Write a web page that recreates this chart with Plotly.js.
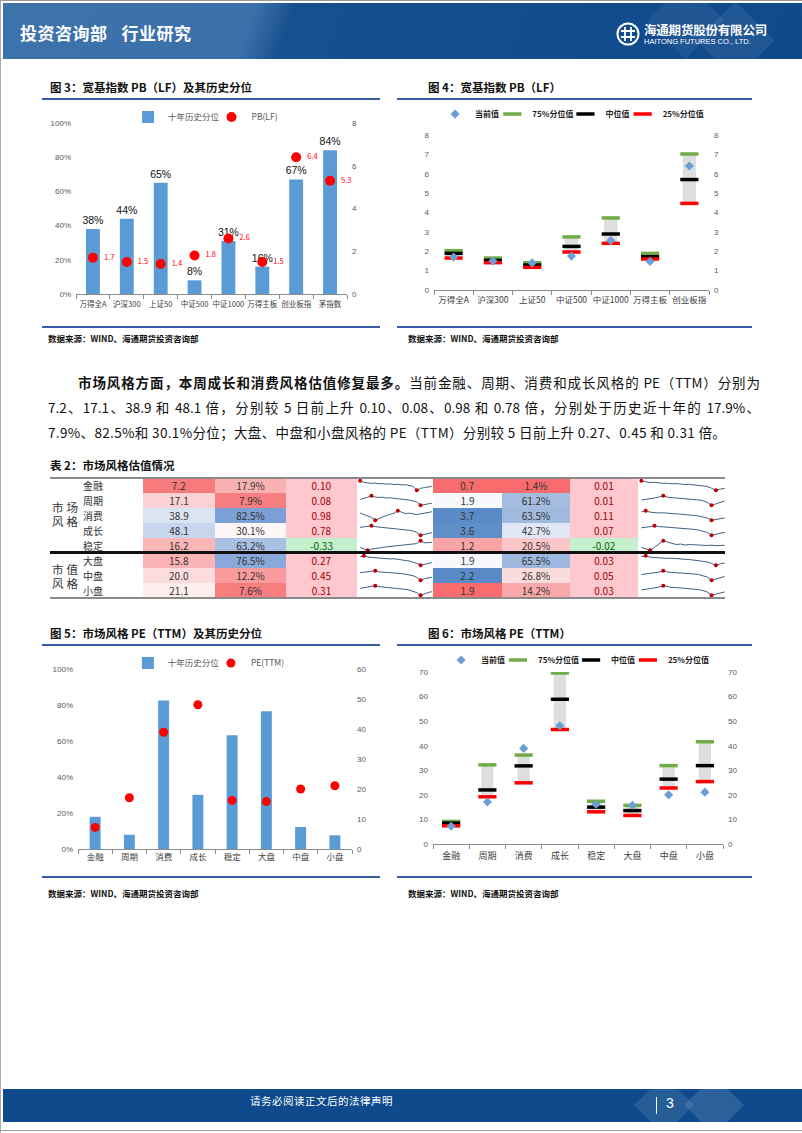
<!DOCTYPE html>
<html><head><meta charset="utf-8">
<script src="https://cdn.plot.ly/plotly-3.0.1.min.js"></script>
<style>
body{margin:0;background:#fff;}
#page{position:relative;width:802px;height:1133px;overflow:hidden;font-family:"Noto Sans CJK SC","Noto Sans",sans-serif;color:#222;}
.abs{position:absolute;}
.ftitle{position:absolute;font-size:11.5px;font-weight:bold;color:#111;white-space:nowrap;line-height:14px;}
.rule{position:absolute;height:2px;background:#3a5da6;}
.src{position:absolute;font-size:8.5px;font-weight:bold;color:#111;white-space:nowrap;line-height:11px;}
.chart{position:absolute;}
.para{position:absolute;left:48px;width:712px;font-size:13.5px;line-height:25px;color:#111;white-space:nowrap;}
.just{text-align:justify;text-align-last:justify;}
.grp{position:absolute;left:52px;font-size:11.5px;line-height:14px;letter-spacing:3px;color:#333;}
</style></head>
<body><div id="page">
<div class="abs" style="left:0;top:0;width:802px;height:1px;background:#999"></div>
<div class="abs" style="left:0;top:0;width:1px;height:1133px;background:#aaa"></div>
<div class="abs" style="left:0;top:1130px;width:802px;height:1px;background:#999"></div>
<!-- header -->
<div class="abs" style="left:3px;top:3px;width:799px;height:56px;background:linear-gradient(108deg,#3d72ab 0%,#3b70aa 31%,#174f8f 36%,#0f4a8c 100%);overflow:hidden">
  <div class="abs" style="left:655px;top:-10px;width:55px;height:55px;transform:rotate(45deg);background:rgba(255,255,255,0.06)"></div>
  <div class="abs" style="left:705px;top:10px;width:55px;height:55px;transform:rotate(45deg);background:rgba(255,255,255,0.07)"></div>
</div>
<div class="abs" style="left:20px;top:20px;color:#fff;font-size:17px;font-weight:bold;white-space:nowrap;letter-spacing:0.5px">投资咨询部<span style="display:inline-block;width:14px"></span>行业研究</div>
<svg class="abs" style="left:615px;top:21px" width="26" height="26" viewBox="0 0 26 26">
  <circle cx="13" cy="13" r="10.5" fill="none" stroke="#fff" stroke-width="2"/>
  <path d="M6 10 H20 M6 16 H20 M10 6 V20 M16 6 V20" stroke="#fff" stroke-width="1.8" fill="none"/>
</svg>
<div class="abs" style="left:644px;top:20px;color:#fff;font-size:12.5px;font-weight:bold;white-space:nowrap;letter-spacing:-0.2px">海通期货股份有限公司</div>
<div class="abs" style="left:644px;top:37px;color:#fff;font-size:7.5px;white-space:nowrap;font-family:'Liberation Sans',Arial,sans-serif">HAITONG FUTURES CO., LTD.</div>

<!-- figure 3/4 -->
<div class="ftitle" style="left:50px;top:80px">图 3：宽基指数 PB（LF）及其历史分位</div>
<div class="rule" style="left:42px;top:98px;width:338px"></div>
<div class="ftitle" style="left:428px;top:80px">图 4：宽基指数 PB（LF）</div>
<div class="rule" style="left:397px;top:98px;width:355px"></div>
<div id="c3" class="chart" style="left:42px;top:102px;width:338px;height:220px"></div>
<div id="c4" class="chart" style="left:397px;top:102px;width:355px;height:220px"></div>
<div class="rule" style="left:42px;top:326px;width:338px"></div>
<div class="rule" style="left:397px;top:326px;width:355px"></div>
<div class="src" style="left:48px;top:333px">数据来源：WIND、海通期货投资咨询部</div>
<div class="src" style="left:408px;top:333px">数据来源：WIND、海通期货投资咨询部</div>

<!-- paragraph -->
<div class="para just" style="top:370px;left:78px;width:682px"><b>市场风格方面，本周成长和消费风格估值修复最多。</b>当前金融、周期、消费和成长风格的 PE（TTM）分别为</div>
<div class="para just" style="top:395px">7.2、17.1、38.9 和 48.1 倍，分别较 5 日前上升 0.10、0.08、0.98 和 0.78 倍，分别处于历史近十年的 17.9%、</div>
<div class="para" style="top:420px;letter-spacing:0.35px">7.9%、82.5%和 30.1%分位；大盘、中盘和小盘风格的 PE（TTM）分别较 5 日前上升 0.27、0.45 和 0.31 倍。</div>

<!-- table -->
<div class="ftitle" style="left:50px;top:458px">表 2：市场风格估值情况</div>
<div id="tbl" class="chart" style="left:0;top:470px;width:802px;height:135px"></div>
<div class="abs" style="left:50px;top:477px;width:675px;height:1.5px;background:#8a8a8a"></div>
<div class="abs" style="left:50px;top:551px;width:675px;height:2.5px;background:#111"></div>
<div class="abs" style="left:50px;top:597px;width:675px;height:1.5px;background:#8a8a8a"></div>
<div class="grp" style="top:500px">市场<br>风格</div>
<div class="grp" style="top:562px">市值<br>风格</div>

<!-- figure 5/6 -->
<div class="ftitle" style="left:50px;top:626px">图 5：市场风格 PE（TTM）及其历史分位</div>
<div class="rule" style="left:42px;top:644px;width:338px"></div>
<div class="ftitle" style="left:428px;top:626px">图 6：市场风格 PE（TTM）</div>
<div class="rule" style="left:397px;top:644px;width:355px"></div>
<div id="c5" class="chart" style="left:42px;top:650px;width:338px;height:222px"></div>
<div id="c6" class="chart" style="left:397px;top:648px;width:355px;height:224px"></div>
<div class="rule" style="left:42px;top:876px;width:338px"></div>
<div class="rule" style="left:397px;top:876px;width:355px"></div>
<div class="src" style="left:48px;top:888px">数据来源：WIND、海通期货投资咨询部</div>
<div class="src" style="left:408px;top:888px">数据来源：WIND、海通期货投资咨询部</div>

<!-- footer -->
<div class="abs" style="left:3px;top:1089px;width:799px;height:33px;background:#0f4b8c;overflow:hidden">
  <div class="abs" style="left:640px;top:-5px;width:42px;height:42px;transform:rotate(45deg);background:rgba(255,255,255,0.10)"></div>
  <div class="abs" style="left:690px;top:-5px;width:42px;height:42px;transform:rotate(45deg);background:rgba(255,255,255,0.12)"></div>
</div>
<div class="abs" style="left:250px;top:1093px;color:#fff;font-size:10.5px;white-space:nowrap;letter-spacing:0.5px">请务必阅读正文后的法律声明</div>
<div class="abs" style="left:656px;top:1097px;width:1px;height:17px;background:#fff"></div>
<div class="abs" style="left:666px;top:1095px;color:#fff;font-size:14px;font-family:'Liberation Sans',Arial,sans-serif">3</div>
</div>

<script>
// ---------- data ----------
const pbCats = ['万得全A','沪深300','上证50','中证500','中证1000','万得主板','创业板指','茅指数'];
const pbPct = [38, 44, 65, 8, 31, 16, 67, 84];
const pbVal = [1.7, 1.5, 1.4, 1.8, 2.6, 1.5, 6.4, 5.3];

const boxCats = ['万得全A','沪深300','上证50','中证500','中证1000','万得主板','创业板指'];
const boxCur = [1.7, 1.5, 1.4, 1.75, 2.55, 1.47, 6.4];
const boxP75 = [2.03, 1.65, 1.41, 2.74, 3.72, 1.89, 7.02];
const boxMed = [1.89, 1.53, 1.29, 2.25, 2.89, 1.72, 5.7];
const boxP25 = [1.65, 1.41, 1.17, 1.96, 2.41, 1.6, 4.47];

const styleCats = ['金融','周期','消费','成长','稳定','大盘','中盘','小盘'];
const pe = [7.2, 17.1, 38.9, 48.1, 16.2, 15.8, 20.0, 21.1];
const pePct = [17.9, 7.9, 82.5, 30.1, 63.2, 76.5, 12.2, 7.6];
const peChg = [0.10, 0.08, 0.98, 0.78, -0.33, 0.27, 0.45, 0.31];
const pb = [0.7, 1.9, 3.7, 3.6, 1.2, 1.9, 2.2, 1.9];
const pbStylePct = [1.4, 61.2, 63.5, 42.7, 20.5, 65.5, 26.8, 14.2];
const pbChg = [0.01, 0.01, 0.11, 0.07, -0.02, 0.03, 0.05, 0.03];

const peP75 = [9.2, 32.2, 36.2, 69.6, 17.4, 15.7, 31.9, 41.6];
const peMed = [8.5, 22.0, 31.8, 58.9, 15.0, 13.6, 26.4, 31.9];
const peP25 = [7.4, 19.2, 24.9, 46.6, 13.1, 11.6, 22.8, 25.4];

// sparkline shapes (estimated readings, one per row)
const sparkPE = [
 [1.0,0.82,0.78,0.72,0.76,0.68,0.7,0.64,0.66,0.6,0.63,0.56,0.58,0.5,0.42,0.0,0.2,0.28,0.36,0.4],
 [0.62,0.7,0.85,1.0,0.86,0.82,0.84,0.76,0.78,0.72,0.7,0.66,0.6,0.55,0.48,0.35,0.0,0.1,0.18,0.22],
 [0.75,0.6,0.45,0.3,0.0,0.2,0.35,0.5,0.62,0.75,1.0,0.82,0.7,0.75,0.66,0.6,0.68,0.72,0.8,0.9],
 [0.82,0.88,0.92,1.0,0.9,0.86,0.84,0.8,0.78,0.74,0.7,0.66,0.6,0.52,0.45,0.3,0.0,0.12,0.2,0.28],
 [0.3,0.15,0.0,0.12,0.2,0.26,0.3,0.36,0.4,0.45,0.5,0.48,0.55,0.6,0.66,0.7,1.0,0.78,0.8,0.82],
 [0.9,1.0,0.86,0.82,0.78,0.8,0.72,0.7,0.66,0.68,0.6,0.56,0.5,0.45,0.35,0.2,0.0,0.1,0.2,0.28],
 [0.78,0.82,0.85,0.9,1.0,0.88,0.86,0.84,0.8,0.78,0.74,0.7,0.64,0.56,0.48,0.3,0.0,0.15,0.25,0.32],
 [0.72,0.8,0.84,0.9,1.0,0.9,0.86,0.88,0.82,0.8,0.76,0.7,0.62,0.55,0.45,0.28,0.0,0.18,0.28,0.38]
];
const sparkPB = [
 [1.0,0.86,0.8,0.84,0.75,0.72,0.74,0.68,0.7,0.64,0.6,0.62,0.55,0.5,0.48,0.4,0.22,0.0,0.12,0.2],
 [0.55,0.6,0.7,0.76,0.85,1.0,0.84,0.8,0.78,0.72,0.7,0.68,0.62,0.56,0.48,0.3,0.0,0.15,0.3,0.45],
 [0.9,1.0,0.85,0.8,0.76,0.78,0.72,0.7,0.68,0.65,0.6,0.58,0.5,0.45,0.38,0.25,0.0,0.1,0.18,0.25],
 [0.78,0.82,0.9,1.0,0.9,0.88,0.85,0.82,0.8,0.78,0.72,0.68,0.62,0.55,0.45,0.3,0.0,0.12,0.22,0.32],
 [0.3,0.15,0.0,0.3,0.7,1.0,0.85,0.7,0.6,0.65,0.55,0.6,0.58,0.52,0.56,0.5,0.54,0.48,0.5,0.52],
 [0.9,1.0,0.84,0.8,0.82,0.75,0.72,0.74,0.68,0.66,0.62,0.6,0.55,0.5,0.42,0.35,0.2,0.0,0.15,0.25],
 [0.6,0.66,0.7,0.75,0.85,1.0,0.86,0.82,0.8,0.78,0.74,0.7,0.66,0.6,0.5,0.35,0.0,0.15,0.3,0.4],
 [0.55,0.62,0.7,0.78,0.85,1.0,0.88,0.82,0.8,0.76,0.72,0.7,0.66,0.6,0.5,0.35,0.0,0.12,0.25,0.35]
];

// ---------- styles ----------
const CJK = '"Noto Sans CJK SC","Noto Sans",sans-serif';
const NUM = '"Liberation Sans",Arial,sans-serif';
const BLUE = '#5b9bd5';
const cfg = {staticPlot:true, displayModeBar:false};
const peColors = ['#f77b7c','#fbd2d3','#dbe4f2','#c8d6ed','#f9b7b8','#f9b3b4','#fcdcdd','#fdeeee'];
const pePctColors = ['#f9b1b2','#f77f81','#7aa0d5','#fdf6f7','#a9c0e2','#88a9d9','#f99b9c','#f77d7f'];
const pbColors = ['#f86c6e','#f8f9fd','#5b8bc7','#608ec9','#f9a4a5','#f8f9fd','#5b8bc7','#f86c6e'];
const pbPctColors = ['#f86c6e','#a4bce0','#a0b9df','#dfe7f4','#fbc6c7','#9db7de','#fbdcdd','#f9a9aa'];
const chgFill = v => v < 0 ? '#c6efce' : '#ffc7ce';
const chgText = v => v < 0 ? '#006100' : '#9c0006';

function catAxis(n, fs, standoff){
  return {type:'category', range:[-0.5, n-0.5], showline:true, linecolor:'#8c8c8c', linewidth:1, tickangle:0,
    ticks:'outside', tickson:'boundaries', ticklen:4, tickcolor:'#8c8c8c', showgrid:false, zeroline:false,
    ticklabelstandoff:standoff||0, tickfont:{size:fs||9, color:'#404040', family:CJK}};
}
function valAxis(range, dtick, extra){
  return Object.assign({range:range, dtick:dtick, showgrid:false, zeroline:false, showline:false, ticks:'',
    tickfont:{size:8, color:'#595959', family:NUM}, ticklabelstandoff:4}, extra||{});
}
function legendAt(x, y, bold){
  return {orientation:'h', x:x, xanchor:'left', y:y, yanchor:'middle', bgcolor:'rgba(0,0,0,0)',
    font:bold ? {size:8, color:'#222', family:CJK, weight:'bold'} : {size:8.5, color:'#595959', family:CJK}};
}

// ---------- chart 3 ----------
Plotly.newPlot('c3', [
  {type:'bar', name:'十年历史分位', x:pbCats, y:pbPct, marker:{color:BLUE}, width:0.41,
   text:pbPct.map(v=>v+'%'), textposition:'outside', constraintext:'none', textangle:0,
   textfont:{size:10.5, color:'#111', family:NUM}, cliponaxis:false, legend:'legend'},
  {type:'scatter', mode:'markers', name:'PB(LF)', x:pbCats, y:pbVal, yaxis:'y2',
   marker:{color:'#ff0000', size:10}, legend:'legend2'},
  {type:'scatter', mode:'markers+text', showlegend:false, x:pbCats, y:pbVal, yaxis:'y2',
   marker:{color:'rgba(0,0,0,0)', size:16}, text:pbVal.map(v=>v.toFixed(1)), textposition:'middle right',
   textfont:{size:7.5, color:'#ff0000', family:CJK}, cliponaxis:false}
], {
  width:338, height:220, margin:{l:34, r:33, t:21, b:28, autoexpand:false}, paper_bgcolor:'#fff', plot_bgcolor:'#fff',
  showlegend:true, legend:legendAt(0.192, 1.035), legend2:legendAt(0.5, 1.035),
  xaxis:catAxis(8, 7.5, 3),
  yaxis:valAxis([0,100], 20, {ticksuffix:'%'}),
  yaxis2:valAxis([0,8], 2, {overlaying:'y', side:'right'})
}, cfg);

// ---------- box charts ----------
function boxChart(id, cats, cur, p75, med, p25, yr, dt, w, h, mg, ly, lxs, fs, so){
  const traces = [
    {type:'bar', x:cats, y:p75.map((v,i)=>v-p25[i]), base:p25, width:0.34, marker:{color:'#dedede'}, showlegend:false, hoverinfo:'skip'},
    {type:'scatter', mode:'markers', name:'当前值', x:cats, y:cur, yaxis:'y2', legend:'legend',
     marker:{symbol:'diamond', size:7, color:'#6a9fd6'}},
    {type:'scatter', mode:'markers', name:'75%分位值', x:cats, y:p75, legend:'legend2',
     marker:{symbol:'line-ew', size:13, line:{width:3.5, color:'#70ad47'}}},
    {type:'scatter', mode:'markers', name:'中位值', x:cats, y:med, legend:'legend3',
     marker:{symbol:'line-ew', size:13, line:{width:3.5, color:'#000000'}}},
    {type:'scatter', mode:'markers', name:'25%分位值', x:cats, y:p25, legend:'legend4',
     marker:{symbol:'line-ew', size:13, line:{width:3.5, color:'#ff0000'}}}
  ];
  Plotly.newPlot(id, traces, {
    width:w, height:h, margin:Object.assign({autoexpand:false}, mg), paper_bgcolor:'#fff', plot_bgcolor:'#fff', barmode:'overlay',
    showlegend:true,
    legend:legendAt(lxs[0], ly, true), legend2:legendAt(lxs[1], ly, true),
    legend3:legendAt(lxs[2], ly, true), legend4:legendAt(lxs[3], ly, true),
    xaxis:catAxis(cats.length, fs, so),
    yaxis:valAxis(yr, dt),
    yaxis2:valAxis(yr, dt, {overlaying:'y', side:'right'})
  }, cfg);
}
boxChart('c4', boxCats, boxCur, boxP75, boxMed, boxP25, [0,8], 1, 355, 220, {l:37, r:43, t:33, b:32},
  1.135, [0.004, 0.212, 0.478, 0.686], 8.5, 2);

// ---------- chart 5 ----------
Plotly.newPlot('c5', [
  {type:'bar', name:'十年历史分位', x:styleCats, y:pePct, marker:{color:BLUE}, width:0.32, legend:'legend'},
  {type:'scatter', mode:'markers', name:'PE(TTM)', x:styleCats, y:pe, yaxis:'y2', marker:{color:'#ff0000', size:9}, legend:'legend2'}
], {
  width:338, height:222, margin:{l:36, r:28, t:19, b:23, autoexpand:false}, paper_bgcolor:'#fff', plot_bgcolor:'#fff',
  showlegend:true, legend:legendAt(0.182, 1.033), legend2:legendAt(0.485, 1.033),
  xaxis:catAxis(8, 8.5, 0),
  yaxis:valAxis([0,100], 20, {ticksuffix:'%'}),
  yaxis2:valAxis([0,60], 10, {overlaying:'y', side:'right'})
}, cfg);

// ---------- chart 6 ----------
boxChart('c6', styleCats, pe, peP75, peMed, peP25, [0,70], 10, 355, 224, {l:36, r:29, t:24, b:28},
  1.07, [0.028, 0.224, 0.476, 0.672], 9, 3);

// ---------- table (cells drawn as full-row horizontal bars) ----------
const f1 = v => v.toFixed(1), fp = v => v.toFixed(1)+'%', f2 = v => v.toFixed(2);
const W = 802, H = 135;
const yTop = 1 - (478 - 470)/H, yLow = 1 - (598 - 470)/H;
const colSpan = {cat:[80,143], pe:[143,215], pePct:[215,286], peChg:[286,357], pb:[433,502], pbPct:[502,570], pbChg:[570,638]};
const rowIdx = styleCats.map((c, i) => i);
function cellCol(texts, fills, fonts, span, anchor){
  return {type:'bar', orientation:'h', y:rowIdx, x:rowIdx.map(()=> span[1]-span[0]), base:span[0], width:1,
    marker:{color:fills, line:{width:0}}, text:texts, textposition:'inside', insidetextanchor:anchor||'middle',
    textangle:0, constraintext:'none', textfont:{size:10, family:CJK, color:fonts}, hoverinfo:'skip', showlegend:false};
}
function sparkTraces(series, xa, ya){
  const out = [];
  series.forEach((s, i) => {
    const mn = Math.min(...s), mx = Math.max(...s);
    const ys = s.map(v => i + 0.32 - 0.64*(v - mn)/(mx - mn));
    const xs = s.map((v, k) => k);
    out.push({type:'scatter', mode:'lines', x:xs, y:ys, xaxis:xa, yaxis:ya, line:{color:'#3f5f86', width:1}, showlegend:false});
    const iMax = s.indexOf(mx), iMin = s.indexOf(mn);
    out.push({type:'scatter', mode:'markers', x:[iMax, iMin], y:[ys[iMax], ys[iMin]], xaxis:xa, yaxis:ya,
      marker:{color:'#c00000', size:4}, showlegend:false, cliponaxis:false});
  });
  return out;
}
const n = sparkPE[0].length;
const hidden = {visible:false, fixedrange:true};
const dark = styleCats.map(()=> '#333');
Plotly.newPlot('tbl', [
  cellCol(styleCats, styleCats.map(()=> 'rgba(0,0,0,0)'), dark, colSpan.cat, 'start'),
  cellCol(pe.map(f1), peColors, dark, colSpan.pe),
  cellCol(pePct.map(fp), pePctColors, dark, colSpan.pePct),
  cellCol(peChg.map(f2), peChg.map(chgFill), peChg.map(chgText), colSpan.peChg),
  cellCol(pb.map(f1), pbColors, dark, colSpan.pb),
  cellCol(pbStylePct.map(fp), pbPctColors, dark, colSpan.pbPct),
  cellCol(pbChg.map(f2), pbChg.map(chgFill), pbChg.map(chgText), colSpan.pbChg),
  ...sparkTraces(sparkPE, 'x2', 'y2'),
  ...sparkTraces(sparkPB, 'x3', 'y3')
], {
  width:W, height:H, margin:{l:0, r:0, t:0, b:0, autoexpand:false}, paper_bgcolor:'rgba(0,0,0,0)', plot_bgcolor:'rgba(0,0,0,0)',
  showlegend:false, barmode:'overlay', bargap:0,
  xaxis:Object.assign({domain:[0,1], range:[0, W]}, hidden),
  yaxis:Object.assign({domain:[yLow, yTop], range:[7.5, -0.5]}, hidden),
  xaxis2:Object.assign({domain:[359/W, 433/W], range:[-0.3, n-0.7], anchor:'y2'}, hidden),
  yaxis2:Object.assign({domain:[yLow, yTop], range:[7.5, -0.5], anchor:'x2'}, hidden),
  xaxis3:Object.assign({domain:[640/W, 726/W], range:[-0.3, n-0.7], anchor:'y3'}, hidden),
  yaxis3:Object.assign({domain:[yLow, yTop], range:[7.5, -0.5], anchor:'x3'}, hidden)
}, cfg);
</script>
</body></html>
